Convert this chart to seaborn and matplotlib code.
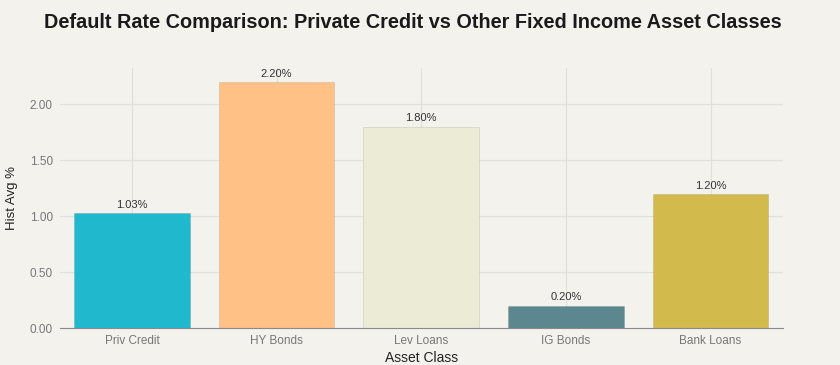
import pandas as pd
import seaborn as sns
import matplotlib.pyplot as plt

# Chart data
asset_classes = ['Priv Credit', 'HY Bonds', 'Lev Loans', 'IG Bonds', 'Bank Loans']
hist_avg = [1.03, 2.20, 1.80, 0.20, 1.20]
bar_colors = ['#1FB8CD', '#FFC185', '#ECEBD5', '#5D878F', '#D2BA4C']

df = pd.DataFrame({'Asset Class': asset_classes, 'Hist Avg %': hist_avg})

bg = '#F3F2ED'
sns.set_theme(style='whitegrid')
plt.rcParams['font.family'] = ['Liberation Sans', 'DejaVu Sans']

fig, ax = plt.subplots(figsize=(8.4, 3.65), dpi=100)
fig.patch.set_facecolor(bg)
ax.set_facecolor(bg)

sns.barplot(data=df, x='Asset Class', y='Hist Avg %', hue='Asset Class',
            palette=bar_colors, saturation=1, legend=False, width=0.8, ax=ax,
            edgecolor='#0000001A', linewidth=0.6)

# value labels
for i, v in enumerate(hist_avg):
    ax.text(i, v + 0.03, f'{v:.2f}%', ha='center', va='bottom',
            fontsize=8, color='#333333')

ax.set_ylim(0, 2.33)
ax.set_xlim(-0.5, 4.5)
ax.set_yticks([0, 0.5, 1.0, 1.5, 2.0])
ax.set_yticklabels([f'{t:.2f}' for t in [0, 0.5, 1.0, 1.5, 2.0]])
ax.tick_params(axis='both', labelsize=8.5, colors='#777777', length=0, pad=5)
ax.grid(True, color='#E0E0DA', linewidth=0.8)
ax.set_axisbelow(True)

for s in ['left', 'right', 'top']:
    ax.spines[s].set_visible(False)
ax.spines['bottom'].set_color('#8A8A8A')
ax.spines['bottom'].set_linewidth(0.8)

ax.set_xlabel('Asset Class', fontsize=10, color='#222222', labelpad=3)
ax.set_ylabel('Hist Avg %', fontsize=9.5, color='#222222', labelpad=8)

fig.suptitle('Default Rate Comparison: Private Credit vs Other Fixed Income Asset Classes',
             fontsize=14.3, fontweight='bold', color='#1A1A1A', x=0.492, y=0.965)

fig.subplots_adjust(left=0.071, right=0.932, bottom=0.101, top=0.815)
fig.savefig('out.png', dpi=100, facecolor=bg)
